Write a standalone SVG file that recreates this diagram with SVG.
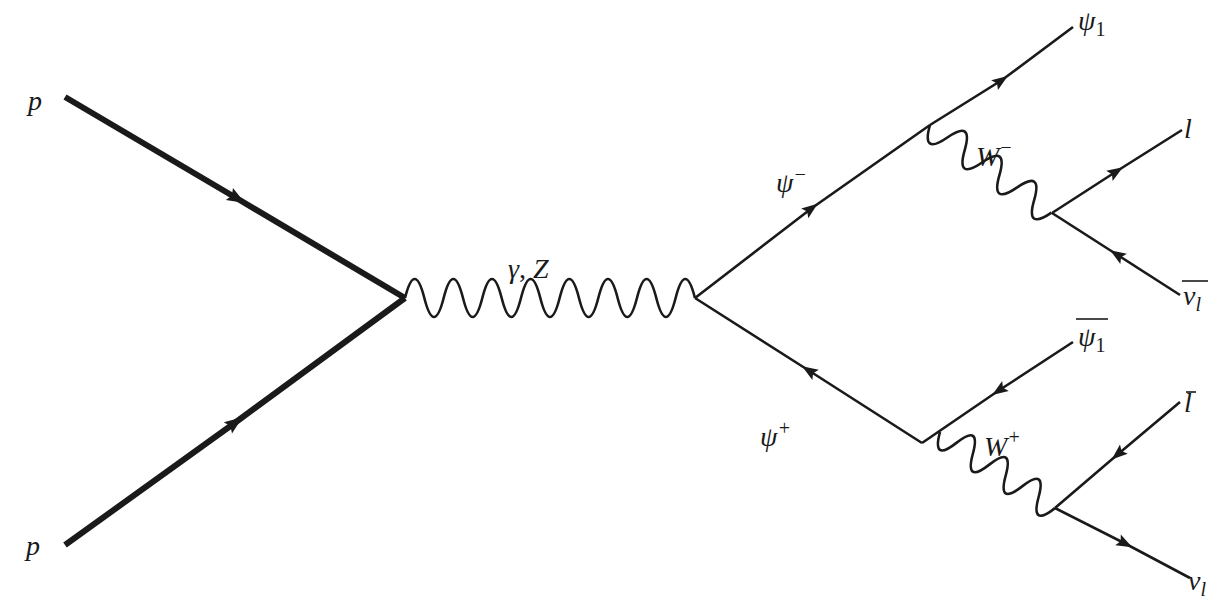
<svg xmlns="http://www.w3.org/2000/svg" width="1231" height="606" viewBox="0 0 1231 606">
<style>
.f{fill:none;stroke:#1a1a1a;stroke-width:2.6;marker-mid:url(#a)}
.t{fill:none;stroke:#1a1a1a;stroke-width:6;marker-mid:url(#b)}
.w{fill:none;stroke:#1a1a1a;stroke-width:2.6}
text{font-family:"Liberation Serif",serif;font-style:italic;font-size:28px;fill:#1a1a1a}
.u{font-style:normal;font-size:20px}
.s{font-size:20px}
.ol{stroke:#1a1a1a;stroke-width:1.6}
</style>
<defs>
<marker id="a" markerUnits="userSpaceOnUse" markerWidth="30" markerHeight="30" refX="0" refY="0" viewBox="-15 -15 30 30" orient="auto" overflow="visible"><path d="M-9,-6 L7,0 L-9,6 L-6,0 z" fill="#1a1a1a"/></marker>
<marker id="b" markerUnits="userSpaceOnUse" markerWidth="30" markerHeight="30" refX="0" refY="0" viewBox="-15 -15 30 30" orient="auto" overflow="visible"><path d="M-10,-7 L8,0 L-10,7 L-7,0 z" fill="#1a1a1a"/></marker>
</defs>
<g id="connectors">
<path class="t" d="M65,97 L238,199 L405,298"/>
<path class="t" d="M65,545 L236,422 L405,298"/>
<path class="w" d="M405,298 c6.44,-25.3 12.89,-25.3 19.33,0 c6.44,25.3 12.89,25.3 19.33,0 c6.44,-25.3 12.89,-25.3 19.33,0 c6.44,25.3 12.89,25.3 19.33,0 c6.44,-25.3 12.89,-25.3 19.33,0 c6.44,25.3 12.89,25.3 19.33,0 c6.44,-25.3 12.89,-25.3 19.33,0 c6.44,25.3 12.89,25.3 19.33,0 c6.44,-25.3 12.89,-25.3 19.33,0 c6.44,25.3 12.89,25.3 19.33,0 c6.44,-25.3 12.89,-25.3 19.33,0 c6.44,25.3 12.89,25.3 19.33,0 c6.44,-25.3 12.89,-25.3 19.33,0 c6.44,25.3 12.89,25.3 19.33,0 c6.44,-25.3 12.89,-25.3 19.33,0"/>
<path class="f" d="M695,298 L812,208 L930,125"/>
<path class="f" d="M930,125 L1002,80 L1073,27"/>
<path class="f" d="M1052,213 L1117,171 L1182,130"/>
<path class="f" d="M1180,295 L1116,254 L1052,213"/>
<path class="f" d="M922,443 L808,370 L695,298"/>
<path class="f" d="M1073,342 L998,391 L922,443"/>
<path class="f" d="M1180,402 L1117,455 L1055,508"/>
<path class="f" d="M1055,508 L1126,544 L1190,578"/>
<g transform="translate(930,125) rotate(35.8)"><path class="w" d="M0,0 c7.1,20 14.3,20 21.4,0 c7.1,-20 14.3,-20 21.4,0 c7.1,20 14.3,20 21.4,0 c7.1,-20 14.3,-20 21.4,0 c7.1,20 14.3,20 21.4,0 c7.1,-20 14.3,-20 21.4,0 c7.1,20 14.3,20 21.4,0"/></g>
<g transform="translate(940,432) rotate(33.5)"><path class="w" d="M0,0 c6.6,20 13.1,20 19.7,0 c6.6,-20 13.1,-20 19.7,0 c6.6,20 13.1,20 19.7,0 c6.6,-20 13.1,-20 19.7,0 c6.6,20 13.1,20 19.7,0 c6.6,-20 13.1,-20 19.7,0 c6.6,20 13.1,20 19.7,0"/></g>
</g>
<g id="p1"><text x="28" y="110">p</text></g>
<g id="p2"><text x="26" y="555">p</text></g>
<g id="gz"><text x="508" y="278">γ<tspan font-style="normal">,</tspan> Z</text></g>
<g id="psim"><text x="776" y="192">ψ<tspan class="s" dy="-11">−</tspan></text></g>
<g id="psip"><text x="760" y="446">ψ<tspan class="s" dy="-11">+</tspan></text></g>
<g id="psi1"><text x="1078" y="30">ψ<tspan class="u" dy="6">1</tspan></text></g>
<g id="wm"><text x="976" y="166">W<tspan class="s" dy="-12">−</tspan></text></g>
<g id="l"><text x="1184" y="138">l</text></g>
<g id="nubar"><text x="1183" y="305">ν<tspan class="s" dy="6">l</tspan></text><line class="ol" x1="1182" y1="281" x2="1208" y2="281"/></g>
<g id="psi1bar"><text x="1078" y="346">ψ<tspan class="u" dy="6">1</tspan></text><line class="ol" x1="1076" y1="319" x2="1108" y2="319"/></g>
<g id="wp"><text x="984" y="456">W<tspan class="s" dy="-12">+</tspan></text></g>
<g id="lbar"><text x="1184" y="412">l</text><line class="ol" x1="1186" y1="392" x2="1196" y2="392"/></g>
<g id="nu"><text x="1188" y="590">ν<tspan class="s" dy="6">l</tspan></text></g>
</svg>
